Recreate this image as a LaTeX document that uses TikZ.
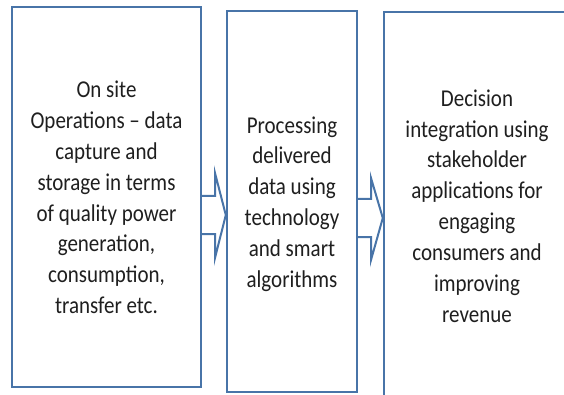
\documentclass[tikz,border=0pt]{standalone}
\usepackage{fontspec}
\setmainfont{Carlito}
\usepackage{tikz}
\usetikzlibrary{positioning}

\definecolor{edgeblue}{RGB}{72,116,168}
% text in the source is drawn a little taller than the font
\newcommand\tallText[1]{\raisebox{-2.5pt}[\height][\depth]{\scalebox{1}[1.15]{\begin{tabular}{@{}c@{}}#1\end{tabular}}}}

\begin{document}
\begin{tikzpicture}[x=1pt, y=-1pt, thick,
  stage/.style={rectangle, draw=edgeblue, line width=2.4pt, fill=white,
    align=center, inner sep=0pt, font=\fontsize{21}{26.8}\selectfont, text=black!88},
  fatarrow/.style={draw=edgeblue, line width=2pt, fill=white, line join=miter}]

  \useasboundingbox (0,0) rectangle (564,395);
  \clip (0,0) rectangle (564,395);

  \node[stage, minimum width=189pt, minimum height=380pt] (S1) at (106.5,197)
    {\tallText{On site\\Operations -- data\\capture and\\storage in terms\\of quality power\\generation,\\consumption,\\transfer etc.}};
  \node[stage, minimum width=130pt, minimum height=381pt] (S2) at (292,201.5)
    {\tallText{Processing\\delivered\\data using\\technology\\and smart\\algorithms}};
  \node[stage, minimum width=186pt, minimum height=387pt] (S3) at (477,205.5)
    {\tallText{Decision\\integration using\\stakeholder\\applications for\\engaging\\consumers and\\improving\\revenue}};

  % block arrows between the stages
  \draw[fatarrow] (S1.east |- 0,196) -- (215,196) -- (215,173)
    -- (S2.west |- 0,215) -- (215,258) -- (215,234) -- (S1.east |- 0,234);
  \draw[fatarrow] (S2.east |- 0,199) -- (371,199) -- (371,178)
    -- (S3.west |- 0,218) -- (371,260) -- (371,237) -- (S2.east |- 0,237);

\end{tikzpicture}
\end{document}
